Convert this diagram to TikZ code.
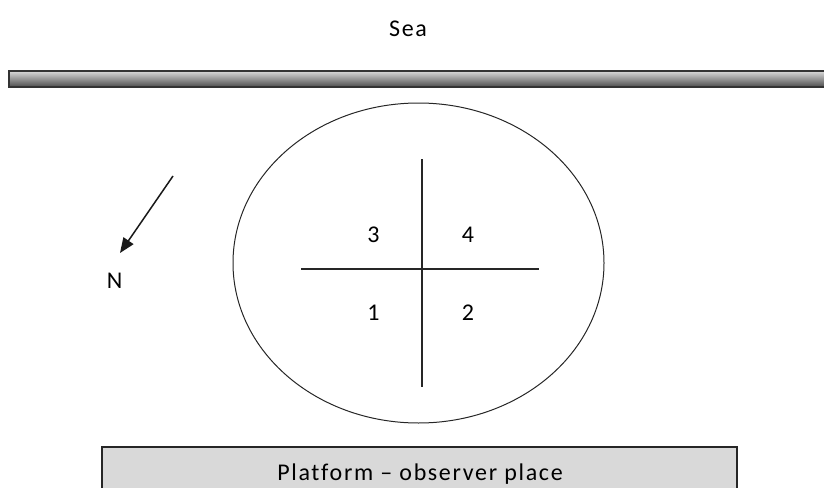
\documentclass[tikz,border=0pt]{standalone}
\usepackage{fontspec}
\setmainfont[LetterSpace=7, Ligatures=CommonOff]{Carlito}
\usetikzlibrary{arrows.meta, positioning}
\definecolor{platgray}{RGB}{217, 217, 217}

\begin{document}
\begin{tikzpicture}[x=1pt, y=-1pt,
  lbl/.style={font=\fontsize{24}{26}\selectfont, inner sep=0pt, anchor=base},
  axis/.style={draw=black!85, line width=1.4pt}
]
  \useasboundingbox (0,0) rectangle (824,487);
  \clip (0,0) rectangle (824,487);

  % sea and shore line
  \node[lbl] (sea) at (408,37) {Sea};
  \shade[top color=gray!30, bottom color=gray!60!black, draw=black!80, line width=1.3pt]
    (9,71) rectangle (830,87);

  % the field
  \draw[line width=1pt, black!85] (418.5,263) ellipse (185.5 and 160);
  \coordinate (top) at (422,159);
  \coordinate (bot) at (422,387);
  \coordinate (lft) at (301,269);
  \coordinate (rgt) at (539,269);
  \draw[axis] (top) -- (bot);
  \draw[axis] (lft) -- (rgt);
  \node[lbl] (q3) at (373.5,242) {3};
  \node[lbl] (q4) at (468,242) {4};
  \node[lbl] (q1) at (373.5,320) {1};
  \node[lbl] (q2) at (468,320) {2};

  % north
  \coordinate (ntail) at (173,176);
  \node[lbl] (north) at (114.5,288) {N};
  \draw[line width=1.5pt, black!90, -{Triangle[length=15pt, width=12pt]}] (ntail) -- (120,253);

  % platform
  \node[draw=black!85, line width=1.5pt, fill=platgray, minimum width=635pt, minimum height=60pt,
        anchor=north west, inner sep=0pt] (platform) at (101,446) {};
  \node[lbl] (ptext) at (420,480) {Platform -- observer place};
\end{tikzpicture}
\end{document}
